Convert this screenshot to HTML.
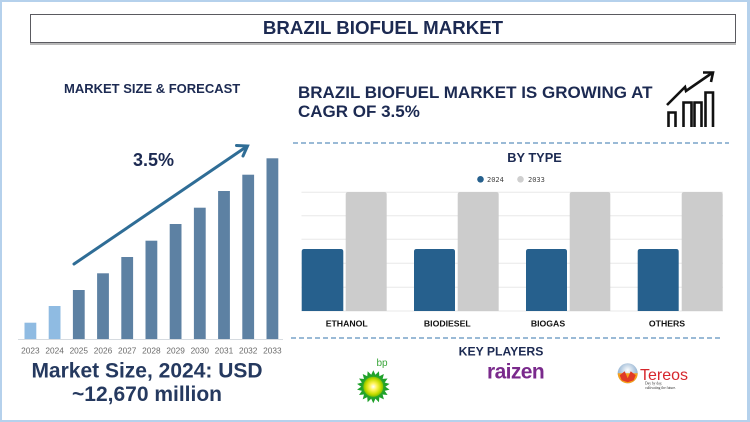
<!DOCTYPE html>
<html>
<head>
<meta charset="utf-8">
<style>
html,body{margin:0;padding:0;background:#fff;}
#root{position:relative;width:750px;height:422px;overflow:hidden;background:#fff;font-family:"Liberation Sans",Arial,sans-serif;}
.frame{position:absolute;left:0;top:0;width:745px;height:418px;border:2px solid #b5d1ec;border-right-width:3px;}
.t{position:absolute;white-space:nowrap;font-weight:bold;color:#1c2a52;}
.titlebox{position:absolute;left:30px;top:14px;width:704px;height:27px;border:1px solid #5a5a60;box-shadow:0 2px 0 #b9b9b9;background:#fff;}
</style>
</head>
<body>
<div id="root">
<div class="frame"></div>
<div class="titlebox"></div>
<div class="t" style="left:30px;width:706px;top:17px;text-align:center;font-size:18.7px;line-height:22px;">BRAZIL BIOFUEL MARKET</div>

<div class="t" style="left:64px;top:81px;font-size:13px;line-height:16px;">MARKET SIZE &amp; FORECAST</div>
<div class="t" style="left:298px;top:84px;font-size:17px;line-height:18.5px;">BRAZIL BIOFUEL MARKET IS GROWING AT<br>CAGR OF 3.5%</div>

<svg style="position:absolute;left:0;top:0" width="750" height="422" viewBox="0 0 750 422">
  <!-- growth icon -->
  <g fill="none" stroke="#111" stroke-width="2.6" stroke-linejoin="miter">
    <path d="M668.5 127 V112.5 H675.5 V127"/>
    <path d="M683.5 127 V102.5 H691.5 V127"/>
    <path d="M694.5 127 V102.5 H701.5 V127"/>
    <path d="M705.5 127 V92.5 H713 V127"/>
    <path d="M667 105 L685 87 L686 91 L712 73"/>
    <path d="M703 72.5 L713 72.5 L711 82"/>
  </g>

  <!-- dashed separators -->
  <g stroke="#5e90bd" stroke-width="1.2" stroke-dasharray="5 3">
    <line x1="293" y1="143" x2="729" y2="143"/>
    <line x1="291" y1="338" x2="723" y2="338"/>
  </g>

  <!-- left bar chart -->
  <line x1="18" y1="339.5" x2="283" y2="339.5" stroke="#d6dbe0" stroke-width="1"/>
  <g>
    <rect x="24.5" y="322.7" width="11.8" height="16.3" fill="#8fbbe2"/>
    <rect x="48.7" y="306" width="11.8" height="33" fill="#8fbbe2"/>
    <rect x="72.9" y="290" width="11.8" height="49" fill="#5d81a3"/>
    <rect x="97.1" y="273.3" width="11.8" height="65.7" fill="#5d81a3"/>
    <rect x="121.3" y="257" width="11.8" height="82" fill="#5d81a3"/>
    <rect x="145.5" y="240.7" width="11.8" height="98.3" fill="#5d81a3"/>
    <rect x="169.7" y="224" width="11.8" height="115" fill="#5d81a3"/>
    <rect x="193.9" y="207.7" width="11.8" height="131.3" fill="#5d81a3"/>
    <rect x="218.1" y="191" width="11.8" height="148" fill="#5d81a3"/>
    <rect x="242.3" y="174.7" width="11.8" height="164.3" fill="#5d81a3"/>
    <rect x="266.5" y="158.3" width="11.8" height="180.7" fill="#5d81a3"/>
  </g>
  <g font-family="Liberation Sans, Arial, sans-serif" font-size="8.3" fill="#6a6a6a" text-anchor="middle">
    <text x="30.4" y="353.6">2023</text>
    <text x="54.6" y="353.6">2024</text>
    <text x="78.8" y="353.6">2025</text>
    <text x="103" y="353.6">2026</text>
    <text x="127.2" y="353.6">2027</text>
    <text x="151.4" y="353.6">2028</text>
    <text x="175.6" y="353.6">2029</text>
    <text x="199.8" y="353.6">2030</text>
    <text x="224" y="353.6">2031</text>
    <text x="248.2" y="353.6">2032</text>
    <text x="272.4" y="353.6">2033</text>
  </g>
  <!-- trend arrow -->
  <g stroke="#2f6d96" stroke-width="3" fill="none" stroke-linecap="round">
    <line x1="74" y1="264" x2="246" y2="147"/>
    <path d="M236.5 145.5 L247.5 146 L243 156"/>
  </g>
  <text x="153.5" y="166" text-anchor="middle" font-family="Liberation Sans, Arial, sans-serif" font-weight="bold" font-size="18" fill="#1c2a52">3.5%</text>
  <text x="147" y="377.5" text-anchor="middle" font-family="Liberation Sans, Arial, sans-serif" font-weight="bold" font-size="21" fill="#25395f">Market Size, 2024: USD</text>
  <text x="147" y="401" text-anchor="middle" font-family="Liberation Sans, Arial, sans-serif" font-weight="bold" font-size="21" fill="#25395f">~12,670 million</text>

  <!-- BY TYPE chart -->
  <text x="534.5" y="162" text-anchor="middle" font-family="Liberation Sans, Arial, sans-serif" font-weight="bold" font-size="12.8" fill="#1c2a52">BY TYPE</text>
  <circle cx="480.5" cy="179.3" r="3.3" fill="#26608d"/>
  <text x="487" y="181.8" font-family="DejaVu Sans Mono, monospace" font-size="7" fill="#444">2024</text>
  <circle cx="520.5" cy="179.3" r="3.3" fill="#cfcfcf"/>
  <text x="528" y="181.8" font-family="DejaVu Sans Mono, monospace" font-size="7" fill="#444">2033</text>
  <g stroke="#e8e8e8" stroke-width="1">
    <line x1="301.5" y1="192.3" x2="723" y2="192.3"/>
    <line x1="301.5" y1="215.7" x2="723" y2="215.7"/>
    <line x1="301.5" y1="239.3" x2="723" y2="239.3"/>
    <line x1="301.5" y1="263.3" x2="723" y2="263.3"/>
    <line x1="301.5" y1="287.3" x2="723" y2="287.3"/>
    <line x1="301.5" y1="311" x2="723" y2="311"/>
  </g>
  <g>
    <path d="M301.7 311 V251.5 Q301.7 249 304.2 249 H340.8 Q343.3 249 343.3 251.5 V311 Z" fill="#26608d"/>
    <path d="M345.7 311 V194.5 Q345.7 192 348.2 192 H384.2 Q386.7 192 386.7 194.5 V311 Z" fill="#cccccc"/>
    <path d="M414 311 V251.5 Q414 249 416.5 249 H452.5 Q455 249 455 251.5 V311 Z" fill="#26608d"/>
    <path d="M457.7 311 V194.5 Q457.7 192 460.2 192 H496.2 Q498.7 192 498.7 194.5 V311 Z" fill="#cccccc"/>
    <path d="M526 311 V251.5 Q526 249 528.5 249 H564.5 Q567 249 567 251.5 V311 Z" fill="#26608d"/>
    <path d="M569.7 311 V194.5 Q569.7 192 572.2 192 H607.8 Q610.3 192 610.3 194.5 V311 Z" fill="#cccccc"/>
    <path d="M637.7 311 V251.5 Q637.7 249 640.2 249 H676.2 Q678.7 249 678.7 251.5 V311 Z" fill="#26608d"/>
    <path d="M681.7 311 V194.5 Q681.7 192 684.2 192 H720.2 Q722.7 192 722.7 194.5 V311 Z" fill="#cccccc"/>
  </g>
  <g font-family="Liberation Sans, Arial, sans-serif" font-weight="bold" font-size="8.7" fill="#111" text-anchor="middle">
    <text x="346.7" y="326.3">ETHANOL</text>
    <text x="447.3" y="326.3">BIODIESEL</text>
    <text x="548" y="326.3">BIOGAS</text>
    <text x="667" y="326.3">OTHERS</text>
  </g>

  <!-- KEY PLAYERS -->
  <text x="501" y="355.7" text-anchor="middle" font-family="Liberation Sans, Arial, sans-serif" font-weight="bold" font-size="12.2" fill="#1c2a52">KEY PLAYERS</text>

  <!-- bp logo -->
  <defs>
    <radialGradient id="bpc" cx="50%" cy="50%" r="50%">
      <stop offset="0" stop-color="#ffffff"/>
      <stop offset="0.35" stop-color="#fff45a"/>
      <stop offset="0.75" stop-color="#c8dc00"/>
      <stop offset="1" stop-color="#7cc000"/>
    </radialGradient>
    <radialGradient id="glb" cx="50%" cy="35%" r="60%">
      <stop offset="0" stop-color="#ffffff"/>
      <stop offset="1" stop-color="#7da3c8"/>
    </radialGradient>
  </defs>
  <g transform="translate(373.3,386.7)">
    <g fill="#1fa12a">
      <polygon points="0,-16.5 3,-10 -3,-10"/>
      <polygon points="0,-16.5 3,-10 -3,-10" transform="rotate(20)"/>
      <polygon points="0,-16.5 3,-10 -3,-10" transform="rotate(40)"/>
      <polygon points="0,-16.5 3,-10 -3,-10" transform="rotate(60)"/>
      <polygon points="0,-16.5 3,-10 -3,-10" transform="rotate(80)"/>
      <polygon points="0,-16.5 3,-10 -3,-10" transform="rotate(100)"/>
      <polygon points="0,-16.5 3,-10 -3,-10" transform="rotate(120)"/>
      <polygon points="0,-16.5 3,-10 -3,-10" transform="rotate(140)"/>
      <polygon points="0,-16.5 3,-10 -3,-10" transform="rotate(160)"/>
      <polygon points="0,-16.5 3,-10 -3,-10" transform="rotate(180)"/>
      <polygon points="0,-16.5 3,-10 -3,-10" transform="rotate(200)"/>
      <polygon points="0,-16.5 3,-10 -3,-10" transform="rotate(220)"/>
      <polygon points="0,-16.5 3,-10 -3,-10" transform="rotate(240)"/>
      <polygon points="0,-16.5 3,-10 -3,-10" transform="rotate(260)"/>
      <polygon points="0,-16.5 3,-10 -3,-10" transform="rotate(280)"/>
      <polygon points="0,-16.5 3,-10 -3,-10" transform="rotate(300)"/>
      <polygon points="0,-16.5 3,-10 -3,-10" transform="rotate(320)"/>
      <polygon points="0,-16.5 3,-10 -3,-10" transform="rotate(340)"/>
    </g>
    <circle r="11.5" fill="#2aa52a"/>
    <circle r="10" fill="url(#bpc)"/>
  </g>
  <text x="376.5" y="366" font-family="Liberation Sans, Arial, sans-serif" font-size="10" fill="#3aa63a">bp</text>

  <!-- raizen -->
  <text x="487" y="378.5" font-family="Liberation Sans, Arial, sans-serif" font-weight="bold" font-size="21" letter-spacing="-0.6" fill="#7a2a8c">raizen</text>

  <!-- Tereos -->
  <g transform="translate(627.7,373.3)">
    <circle r="10" fill="url(#glb)"/>
    <path d="M-10 0 A10 10 0 0 0 10 0 Z" fill="#f7a21b"/>
    <path d="M-8 2 L-3 -2 L0 5 L3 -2 L8 2 L6 7 L0 9 L-6 7 Z" fill="#e03a26"/>
  </g>
  <text x="640" y="380" font-family="Liberation Sans, Arial, sans-serif" font-size="16" fill="#d6262c">Tereos</text>
  <text x="645" y="384.5" font-family="Liberation Serif, serif" font-size="3.6" fill="#333">Day by day,</text>
  <text x="645" y="389" font-family="Liberation Serif, serif" font-size="3.6" fill="#333">cultivating the future.</text>
</svg>
</div>
</body>
</html>
